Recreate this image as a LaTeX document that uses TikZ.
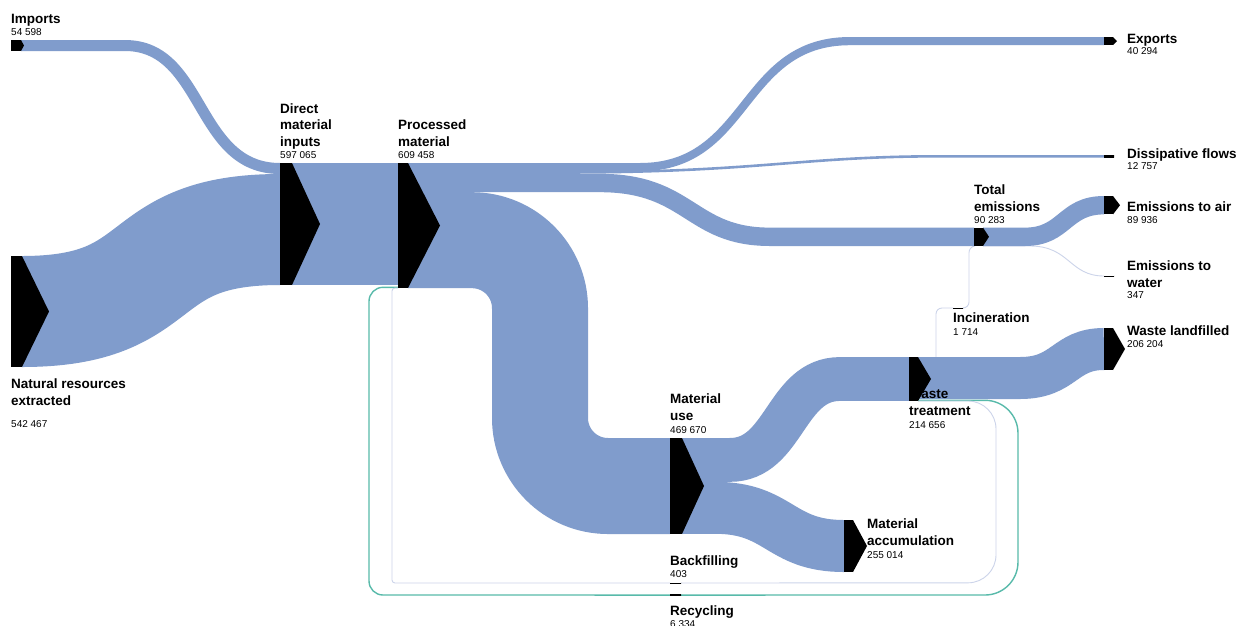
\documentclass[tikz,border=0pt]{standalone}
\usepackage{fontspec}
\setmainfont{Liberation Sans}
\usepackage{tikz}
\usetikzlibrary{backgrounds}
\definecolor{bandblue}{RGB}{128,156,204}
\definecolor{loopteal}{RGB}{88,186,170}
\definecolor{looplight}{RGB}{204,212,234}
\tikzset{
    %Define style for the stock bars
    stock/.style={
           rectangle,
           fill=black,
           inner sep=0pt, outer sep=0pt,
           anchor=north west},
    %Define style for labels (base is the last line)
    stocklabel/.style={
           anchor=base west,
           align=left,
           inner sep=0pt,
           font=\fontsize{13.5}{16.5}\selectfont\bfseries},
    stockvalue/.style={
           anchor=base west,
           inner sep=0pt,
           font=\fontsize{10}{12}\selectfont},
    % Define flow styles
    band/.style={draw=bandblue, line width=#1},
    recloop/.style={draw=loopteal, line width=1.4pt},
    minorflow/.style={draw=looplight, line width=0.9pt}
}
% bar with its arrow tip: name, x, y, width, height, tip
\newcommand{\stocknode}[6]{%
  \node[stock, minimum width=#4pt, minimum height=#5pt] (#1) at (#2,#3) {};
  \fill (#1.north east) -- ([xshift=#6pt]#1.east) -- (#1.south east) -- cycle;}

\begin{document}
\begin{tikzpicture}[x=1pt,y=-1pt]
\useasboundingbox (0,0) rectangle (1242,625);
% labels
\node[stocklabel] (impl) at (11,23) {Imports};
\node[stockvalue] (impv) at (11,35) {54 598};
\node[stocklabel] (natl) at (11,405) {Natural resources\\extracted};
\node[stockvalue] (natv) at (11,427) {542 467};
\node[stocklabel] (dmil) at (280,146) {Direct\\material\\inputs};
\node[stockvalue] (dmiv) at (280,158) {597 065};
\node[stocklabel] (pml) at (398,146) {Processed\\material};
\node[stockvalue] (pmv) at (398,158) {609 458};
\node[stocklabel] (expl) at (1127,43) {Exports};
\node[stockvalue] (expv) at (1127,54) {40 294};
\node[stocklabel] (disl) at (1127,158) {Dissipative flows};
\node[stockvalue] (disv) at (1127,169) {12 757};
\node[stocklabel] (teml) at (974,211) {Total\\emissions};
\node[stockvalue] (temv) at (974,223) {90 283};
\node[stocklabel] (airl) at (1127,211) {Emissions to air};
\node[stockvalue] (airv) at (1127,223) {89 936};
\node[stocklabel] (watl) at (1127,287) {Emissions to\\water};
\node[stockvalue] (watv) at (1127,298) {347};
\node[stocklabel] (incl) at (953,322) {Incineration};
\node[stockvalue] (incv) at (953,335) {1 714};
\node[stocklabel] (landl) at (1127,335) {Waste landfilled};
\node[stockvalue] (landv) at (1127,347) {206 204};
\node[stocklabel] (usel) at (670,420) {Material\\use};
\node[stockvalue] (usev) at (670,433) {469 670};
\node[stocklabel] (wtl) at (909,415) {Waste\\treatment};
\node[stockvalue] (wtv) at (909,428) {214 656};
\node[stocklabel] (accl) at (867,545) {Material\\accumulation};
\node[stockvalue] (accv) at (867,558) {255 014};
\node[stocklabel] (backl) at (670,565) {Backfilling};
\node[stockvalue] (backv) at (670,577) {403};
\node[stocklabel] (recl) at (670,615) {Recycling};
\node[stockvalue] (recv) at (670,627) {6 334};
% stocks
\stocknode{imp}{11}{40}{10}{11}{3}
\stocknode{nat}{11}{256}{11}{111}{27}
\stocknode{dmi}{280}{163}{12}{122}{28}
\stocknode{pm}{398}{163}{10}{125}{32}
\stocknode{exp}{1104}{37}{9}{8.2}{4}
\stocknode{dis}{1104}{155}{10}{2.6}{0}
\stocknode{tem}{974}{227.6}{9}{18.4}{6}
\stocknode{air}{1104}{196}{9}{18.4}{7}
\stocknode{wat}{1104}{275.5}{10}{1}{0}
\stocknode{inc}{953}{307.5}{10}{1}{0}
\stocknode{wt}{909}{357}{9}{44}{13}
\stocknode{land}{1104}{328}{9}{42}{12}
\stocknode{use}{670}{438}{12}{96}{22}
\stocknode{acc}{844}{520}{9}{52}{14}
\stocknode{back}{670}{582.5}{11}{1}{0}
\stocknode{rec}{670}{594.3}{11}{1.5}{0}
% flows
\begin{pgfonlayer}{background}
\fill[white] (0,0) rectangle (1242,625);
\draw[recloop, rounded corners=33pt] ([yshift=-43.3pt]wt.north east) -- (1018,400.3) -- (1018,595) -- (rec.east);
\draw[recloop, rounded corners=14pt] (rec.west) -- (369,595) -- (369,287.3) -- ([yshift=0.7pt]pm.south west);
\draw[minorflow, rounded corners=28pt] ([yshift=-44pt]wt.north east) -- (996,401) -- (996,582.8) -- (back.east);
\draw[minorflow, rounded corners=3pt] (back.west) -- (392,583) -- (392,288) -- (pm.south west);
\draw[minorflow, rounded corners=6pt] ([xshift=18pt]wt.north east) -- (936,308) -- (inc.west);
\draw[minorflow, rounded corners=6pt] (inc.east) -- (969,308) -- (969,246.5) -- (tem.south west);
\draw[minorflow] ([yshift=-9.2pt]tem.east) -- (1030,246) .. controls +(40,0) and +(-35,0) .. (wat.west);
\draw[band=11pt] (imp.east) -- (125,45.5) .. controls +(80,0) and +(-85,0) .. ([yshift=-5.5pt]dmi.north west);
\draw[band=111pt] (nat.east) .. controls +(150,0) and +(-150,0) .. ([yshift=-66.5pt]dmi.north west);
\draw[band=122pt] ([yshift=-61pt]dmi.north east) -- ([yshift=-61pt]pm.north west);
\draw[band=8.2pt] ([yshift=-4.1pt]pm.north east) -- (640,167.1) .. controls +(110,0) and +(-110,0) .. (850,41.1) -- (exp.west);
\draw[band=2.6pt] ([yshift=-9.5pt]pm.north east) -- (560,172.5) .. controls +(200,0) and +(-140,0) .. (940,156.3) -- (dis.west);
\draw[band=18.4pt] ([yshift=-20pt]pm.north east) -- (600,183) .. controls +(90,0) and +(-80,0) .. (770,236.8) -- (tem.west);
\draw[band=96pt, rounded corners=68pt] ([yshift=-77.2pt]pm.north east) -- (540,240.2) -- (540,486) -- (use.west);
\draw[band=18.4pt] (tem.east) -- (1025,236.8) .. controls +(40,0) and +(-40,0) .. (air.west);
\draw[band=43.8pt] ([yshift=-21.9pt]use.north east) -- (730,459.9) .. controls +(55,0) and +(-55,0) .. (840,379) -- (wt.west);
\draw[band=52pt] ([yshift=-69.8pt]use.north east) -- (715,507.8) .. controls +(65,0) and +(-65,0) .. (acc.west);
\draw[band=42pt] ([yshift=-21pt]wt.north east) -- (1020,378) .. controls +(45,0) and +(-40,0) .. (land.west);
\end{pgfonlayer}
\end{tikzpicture}
\end{document}
